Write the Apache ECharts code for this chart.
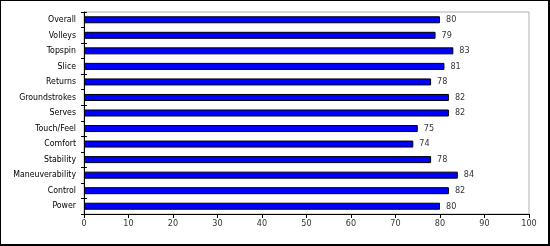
<!DOCTYPE html>
<html><head><meta charset="utf-8">
<script src="https://cdn.jsdelivr.net/npm/echarts@6/dist/echarts.min.js"></script>
<style>
html,body{margin:0;padding:0;background:#fff;}
#wrap{position:relative;width:550px;height:246px;}
#c{width:550px;height:246px;}
#frame{position:absolute;left:0;top:0;width:550px;height:246px;box-sizing:border-box;border:1px solid #000;border-right-width:2px;border-bottom-width:2px;pointer-events:none;}
</style></head>
<body>
<div id="wrap"><div id="c"></div><div id="frame"></div></div>
<script>
var categories = ["Overall","Volleys","Topspin","Slice","Returns","Groundstrokes","Serves","Touch/Feel","Comfort","Stability","Maneuverability","Control","Power"];
var values = [80,79,83,81,78,82,82,75,74,78,84,82,80];
var xTicks = [0,10,20,30,40,50,60,70,80,90,100];

var chart = echarts.init(document.getElementById('c'), null, {renderer:'canvas'});
var font = '"DejaVu Sans Condensed", "DejaVu Sans", sans-serif';
chart.setOption({
  animation:false,
  grid:{left:84,top:12,right:21,bottom:32,show:true,borderColor:'#b0b0b0',borderWidth:1,containLabel:false},
  xAxis:{type:'value',min:xTicks[0],max:xTicks[xTicks.length-1],interval:10,
    axisLine:{show:true,lineStyle:{color:'#000',width:1}},
    axisTick:{show:true,length:4,lineStyle:{color:'#000'}},
    splitLine:{show:false},
    axisLabel:{color:'#333',fontFamily:font,fontSize:9,margin:5}},
  yAxis:[{type:'category',data:categories,inverse:true,
    axisLine:{show:true,lineStyle:{color:'#000',width:1}},
    axisTick:{show:true,length:3,lineStyle:{color:'#000'}},
    axisLabel:{color:'#000',fontFamily:font,fontSize:8.7,margin:8}},
   {type:'category',data:categories,inverse:true,position:'left',offset:0,
    axisLine:{show:false},
    axisTick:{show:true,inside:true,length:3,lineStyle:{color:'#000'}},
    axisLabel:{show:false}}],
  series:[{type:'bar',data:values,barWidth:7,yAxisIndex:0,
    itemStyle:{color:'#0000ff',borderColor:'#000',borderWidth:1},
    label:{show:true,position:'right',distance:6,color:'#333',fontFamily:font,fontSize:9}}]
});
</script>
</body></html>
